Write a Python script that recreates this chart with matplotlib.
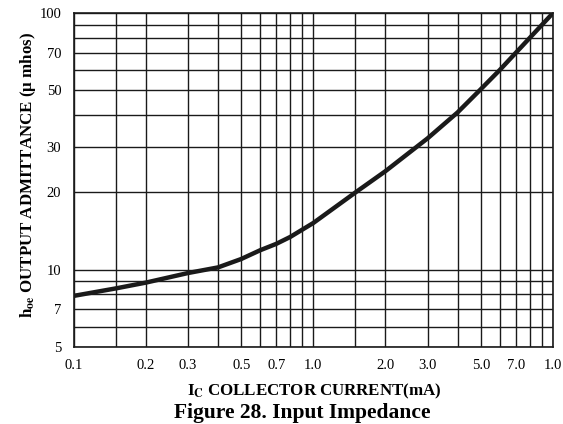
import matplotlib
matplotlib.use('Agg')
import matplotlib.pyplot as plt

# Output admittance vs collector current
ic_ma = [0.1, 0.15, 0.2, 0.3, 0.4, 0.5, 0.6, 0.7, 0.8, 1.0, 1.5, 2.0, 3.0, 4.0, 5.0, 6.0, 7.0, 8.0, 10.0]
hoe_umhos = [7.9, 8.45, 8.9, 9.7, 10.2, 11.0, 11.9, 12.6, 13.4, 15.2, 20.0, 24.2, 32.5, 41.0, 50.5, 60.0, 70.0, 80.0, 100.0]

# Tick labels as printed (the last x label really reads "1.0")
x_ticks = [0.1, 0.2, 0.3, 0.5, 0.7, 1.0, 2.0, 3.0, 5.0, 7.0, 10.0]
x_labels = ['0.1', '0.2', '0.3', '0.5', '0.7', '1.0', '2.0', '3.0', '5.0', '7.0', '1.0']
y_ticks = [5, 7, 10, 20, 30, 50, 70, 100]
y_labels = ['5', '7', '10', '20', '30', '50', '70', '100']

# grid lines drawn on the chart paper
x_grid = [0.1, 0.15, 0.2, 0.3, 0.4, 0.5, 0.6, 0.7, 0.8, 0.9,
          1.0, 1.5, 2.0, 3.0, 4.0, 5.0, 6.0, 7.0, 8.0, 9.0, 10.0]
y_grid = [5, 6, 7, 8, 9, 10, 20, 30, 40, 50, 60, 70, 80, 90, 100]

plt.rcParams['font.family'] = ['Liberation Serif', 'DejaVu Serif']
plt.rcParams['mathtext.fontset'] = 'stix'

fig = plt.figure(figsize=(5.63, 4.24), dpi=100)
ax = fig.add_axes([0.131, 0.182, 0.851, 0.787])

ax.set_xscale('log')
ax.set_yscale('log')
ax.set_xlim(0.1, 10)
ax.set_ylim(5, 100)

for gx in x_grid:
    ax.axvline(gx, color='#1a1a1a', linewidth=1.0, zorder=1)
for gy in y_grid:
    ax.axhline(gy, color='#1a1a1a', linewidth=1.0, zorder=1)

ax.plot(ic_ma, hoe_umhos, color='#1a1a1a', linewidth=3.2, solid_capstyle='round', zorder=3)

ax.minorticks_off()
ax.set_xticks(x_ticks)
ax.set_xticklabels(x_labels, fontsize=10.5)
ax.set_yticks(y_ticks)
ax.set_yticklabels(y_labels, fontsize=10.5)
ax.tick_params(axis='x', length=0, pad=8.5)
ax.tick_params(axis='y', length=0, pad=9)

for s in ax.spines.values():
    s.set_linewidth(1.2)
    s.set_color('#1a1a1a')

ax.set_xlabel(r'I$_\mathbf{C}$ COLLECTOR CURRENT(mA)', fontsize=12.2, fontweight='bold', va='baseline')
ax.xaxis.set_label_coords(0.501, -0.1468)
ax.set_ylabel(r'h$_\mathbf{oe}$ OUTPUT ADMITTANCE (μ mhos)', fontsize=12.2, fontweight='bold', va='baseline')
ax.yaxis.set_label_coords(-0.088, 0.514)
fig.text(0.537, 0.0142, 'Figure 28. Input Impedance', ha='center', va='baseline',
         fontsize=15.5, fontweight='bold')

plt.savefig('out.png', dpi=100)
